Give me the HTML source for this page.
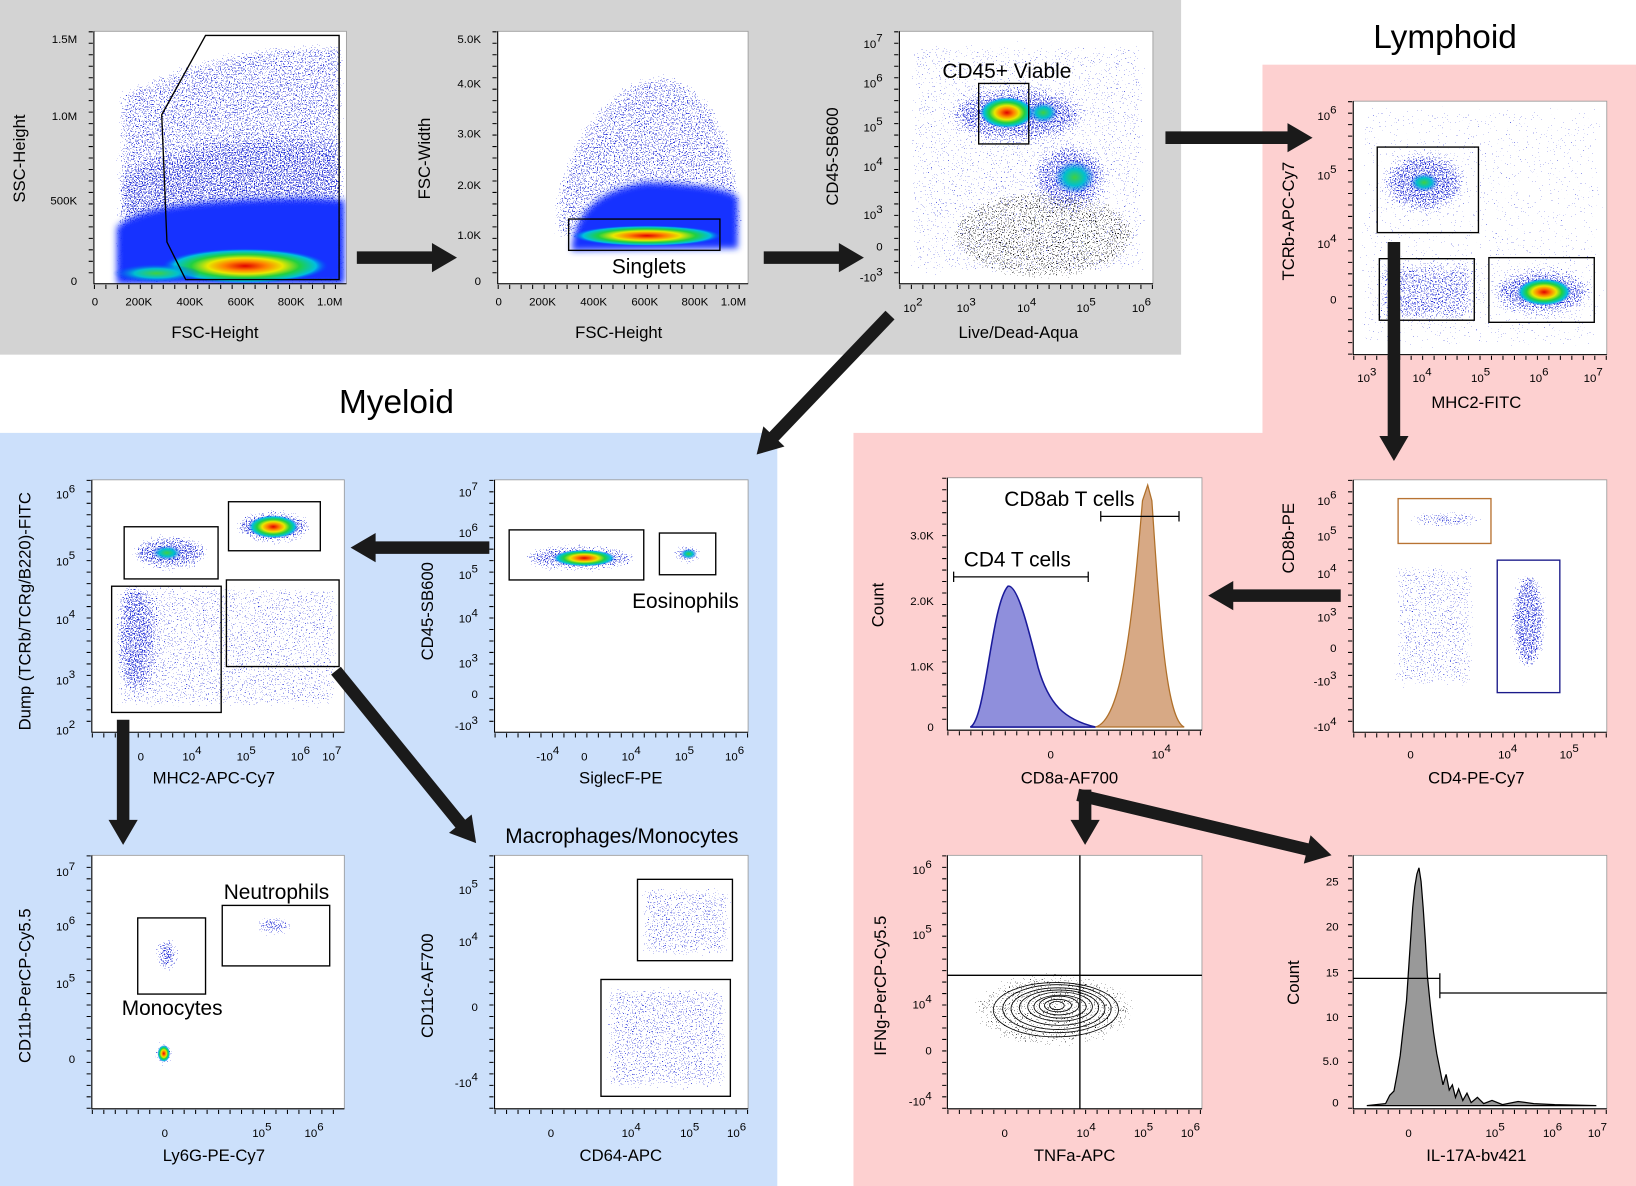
<!DOCTYPE html>
<html><head><meta charset="utf-8"><style>
html,body{margin:0;padding:0;background:#fff}
svg{display:block}
text{font-family:"Liberation Sans",sans-serif;fill:#000}
.t{font-size:11px;text-anchor:end}
.tx{font-size:11px;text-anchor:middle}
.al{font-size:16px;text-anchor:middle}
.an{font-size:20px;text-anchor:middle}
</style></head><body>
<svg width="1636" height="1186" viewBox="0 0 1568 1137" preserveAspectRatio="none" xmlns="http://www.w3.org/2000/svg">
<defs>
<radialGradient id="heat">
<stop offset="0" stop-color="#e00000"/><stop offset="0.25" stop-color="#ff8000"/><stop offset="0.45" stop-color="#e8e800"/><stop offset="0.65" stop-color="#20d040"/><stop offset="0.85" stop-color="#00c0e0"/><stop offset="1" stop-color="#0040ff" stop-opacity="0"/>
</radialGradient>
<radialGradient id="heat2">
<stop offset="0" stop-color="#40d040"/><stop offset="0.5" stop-color="#00c0d0"/><stop offset="1" stop-color="#0040ff" stop-opacity="0"/>
</radialGradient>
<filter id="sp" filterUnits="userSpaceOnUse" x="0" y="0" width="1568" height="1137">
<feGaussianBlur in="SourceAlpha" stdDeviation="5" result="b"/>
<feTurbulence type="fractalNoise" baseFrequency="0.8" numOctaves="2" seed="5" result="n"/>
<feColorMatrix in="n" type="matrix" values="0 0 0 0 0  0 0 0 0 0  0 0 0 0 0  1 0 0 0 0" result="na"/>
<feComposite in="na" in2="b" operator="arithmetic" k1="0" k2="2" k3="1" k4="-2.08" result="c"/>
<feComponentTransfer in="c" result="t"><feFuncA type="linear" slope="30" intercept="0"/></feComponentTransfer>
<feFlood flood-color="#2a35d8"/><feComposite in2="t" operator="in"/>
</filter>
<filter id="spk" filterUnits="userSpaceOnUse" x="0" y="0" width="1568" height="1137">
<feGaussianBlur in="SourceAlpha" stdDeviation="5" result="b"/>
<feTurbulence type="fractalNoise" baseFrequency="0.8" numOctaves="2" seed="9" result="n"/>
<feColorMatrix in="n" type="matrix" values="0 0 0 0 0  0 0 0 0 0  0 0 0 0 0  1 0 0 0 0" result="na"/>
<feComposite in="na" in2="b" operator="arithmetic" k1="0" k2="2" k3="1" k4="-2.08" result="c"/>
<feComponentTransfer in="c" result="t"><feFuncA type="linear" slope="30" intercept="0"/></feComponentTransfer>
<feFlood flood-color="#111"/><feComposite in2="t" operator="in"/>
</filter>
<filter id="bl"><feGaussianBlur stdDeviation="3"/></filter>
<clipPath id="c1"><rect x="90" y="30" width="242" height="242"/></clipPath>
<clipPath id="c2"><rect x="477" y="30" width="240" height="242"/></clipPath>
<clipPath id="c3"><rect x="862" y="30" width="243" height="242"/></clipPath>
<clipPath id="c4"><rect x="1297" y="97" width="243" height="243"/></clipPath>
<clipPath id="c5"><rect x="88" y="460" width="242" height="242"/></clipPath>
<clipPath id="c6"><rect x="474" y="460" width="243" height="242"/></clipPath>
<clipPath id="c8"><rect x="1297" y="460" width="243" height="242"/></clipPath>
<clipPath id="c9"><rect x="88" y="820" width="242" height="243"/></clipPath>
<clipPath id="c10"><rect x="474" y="820" width="243" height="243"/></clipPath>
<clipPath id="c11"><rect x="908" y="820" width="244" height="243"/></clipPath>
</defs>
<rect x="0" y="0" width="1568" height="1137" fill="#fff"/>
<rect x="0" y="0" width="1132" height="340" fill="#d3d3d3"/>
<rect x="0" y="415" width="745" height="722" fill="#cce0fb"/>
<rect x="1210" y="62" width="358" height="360" fill="#fdd0d0"/>
<rect x="818" y="415" width="750" height="722" fill="#fdd0d0"/>
<text x="1385" y="46" style="font-size:32px;text-anchor:middle">Lymphoid</text>
<text x="380" y="396" style="font-size:32px;text-anchor:middle">Myeloid</text>
<g fill="#fff" stroke="#999" stroke-width="0.8">
<rect x="90" y="30" width="242" height="242"/>
<rect x="477" y="30" width="240" height="242"/>
<rect x="862" y="30" width="243" height="242"/>
<rect x="1297" y="97" width="243" height="243"/>
<rect x="88" y="460" width="242" height="242"/>
<rect x="474" y="460" width="243" height="242"/>
<rect x="908" y="458" width="244" height="242"/>
<rect x="1297" y="460" width="243" height="242"/>
<rect x="88" y="820" width="242" height="243"/>
<rect x="474" y="820" width="243" height="243"/>
<rect x="908" y="820" width="244" height="243"/>
<rect x="1297" y="820" width="243" height="243"/>
</g>

<!-- P1 -->
<g clip-path="url(#c1)">
<g filter="url(#sp)"><path d="M112,272 L112,90 Q200,40 330,40 L330,272Z" fill-opacity="0.85"/><path d="M112,272 L112,170 Q220,120 330,140 L330,272Z" fill-opacity="1"/></g>
<path d="M112,272 L112,218 Q130,200 200,194 Q280,188 330,192 L330,272Z" fill="#1530ff" filter="url(#bl)"/>
<ellipse cx="235" cy="255" rx="80" ry="17" fill="url(#heat)"/>
<ellipse cx="150" cy="262" rx="42" ry="9" fill="url(#heat2)"/>
</g>
<!-- P2 -->
<g clip-path="url(#c2)">
<g filter="url(#sp)"><path d="M530,190 Q565,70 640,70 Q705,90 712,200 L712,230 L530,230Z" fill-opacity="0.85"/></g>
<path d="M548,240 Q552,185 620,175 Q700,178 707,190 L707,238 Z" fill="#1530ff" filter="url(#bl)"/>
<ellipse cx="620" cy="226" rx="72" ry="10" fill="url(#heat)"/>
</g>
<!-- P3 -->
<g clip-path="url(#c3)">
<g filter="url(#sp)"><ellipse cx="975" cy="110" rx="60" ry="24" fill-opacity="1"/><ellipse cx="1025" cy="170" rx="32" ry="28" fill-opacity="1"/><rect x="870" y="40" width="230" height="225" fill-opacity="0.62"/></g>
<g filter="url(#spk)"><ellipse cx="1000" cy="225" rx="90" ry="45" fill-opacity="0.8"/></g>
<ellipse cx="965" cy="108" rx="26" ry="15" fill="url(#heat)"/>
<ellipse cx="1000" cy="108" rx="14" ry="10" fill="url(#heat2)"/>
<ellipse cx="1030" cy="170" rx="20" ry="16" fill="url(#heat2)"/>
</g>
<!-- P4 -->
<g clip-path="url(#c4)">
<g filter="url(#sp)"><ellipse cx="1365" cy="175" rx="36" ry="26" fill-opacity="1"/><ellipse cx="1478" cy="280" rx="44" ry="20"/><rect x="1325" y="255" width="85" height="50" fill-opacity="0.75"/><rect x="1300" y="100" width="238" height="236" fill-opacity="0.55"/></g>
<ellipse cx="1365" cy="175" rx="14" ry="9" fill="url(#heat2)"/>
<ellipse cx="1480" cy="280" rx="26" ry="13" fill="url(#heat)"/>
</g>
<!-- P5 -->
<g clip-path="url(#c5)">
<g filter="url(#sp)"><ellipse cx="163" cy="530" rx="38" ry="18"/><ellipse cx="262" cy="505" rx="38" ry="17"/><ellipse cx="130" cy="610" rx="18" ry="50" fill-opacity="1"/><rect x="110" y="560" width="215" height="120" fill-opacity="0.7"/></g>
<ellipse cx="160" cy="530" rx="14" ry="7" fill="url(#heat2)"/>
<ellipse cx="262" cy="505" rx="24" ry="11" fill="url(#heat)"/>
</g>
<!-- P6 -->
<g clip-path="url(#c6)">
<g filter="url(#sp)"><ellipse cx="555" cy="535" rx="56" ry="14"/><ellipse cx="659" cy="531" rx="16" ry="10"/></g>
<ellipse cx="560" cy="535" rx="30" ry="8" fill="url(#heat)"/>
<ellipse cx="660" cy="531" rx="8" ry="5" fill="url(#heat2)"/>
</g>
<!-- P8 -->
<g clip-path="url(#c8)">
<g filter="url(#sp)"><ellipse cx="1385" cy="498" rx="38" ry="8"/><ellipse cx="1465" cy="595" rx="18" ry="48"/><rect x="1335" y="540" width="80" height="120" fill-opacity="0.7"/></g>
</g>
<!-- P9 -->
<g clip-path="url(#c9)">
<g filter="url(#sp)"><ellipse cx="160" cy="915" rx="12" ry="18"/><ellipse cx="262" cy="888" rx="20" ry="10"/><ellipse cx="157" cy="1010" rx="10" ry="14"/></g>
<ellipse cx="157" cy="1010" rx="6" ry="8" fill="url(#heat)"/>
</g>
<!-- P10 -->
<g clip-path="url(#c10)">
<g filter="url(#sp)"><rect x="613" y="850" width="88" height="68" fill-opacity="0.75"/><rect x="580" y="945" width="118" height="100" fill-opacity="0.75"/></g>
</g>
<!-- P11 -->
<g clip-path="url(#c11)">
<g filter="url(#spk)"><ellipse cx="1010" cy="968" rx="80" ry="38" fill-opacity="0.72"/></g>
<g fill="none" stroke="#000" stroke-width="0.8">
<ellipse cx="1012" cy="968" rx="60" ry="26"/><ellipse cx="1013" cy="967" rx="52" ry="23"/><ellipse cx="1014" cy="967" rx="45" ry="20"/><ellipse cx="1015" cy="966" rx="38" ry="17"/><ellipse cx="1016" cy="965" rx="31" ry="14"/><ellipse cx="1016" cy="965" rx="25" ry="11"/><ellipse cx="1015" cy="964" rx="19" ry="9"/><ellipse cx="1014" cy="964" rx="13" ry="6"/><ellipse cx="1013" cy="964" rx="7" ry="4"/>
</g>
</g>

<!-- histogram plot 7 -->
<path d="M930,697 C945,690 950,580 966,562 C975,560 985,600 995,640 C1005,675 1020,690 1050,697 Z" fill="#8f8fdc" stroke="#1a1a9a" stroke-width="1.5"/>
<path d="M1050,697 C1075,690 1085,600 1095,480 L1100,465 L1104,480 C1112,600 1118,690 1135,697 Z" fill="#d7a985" stroke="#b0702a" stroke-width="1.2"/>
<g stroke="#000" stroke-width="1.2"><path d="M914,553 H1043 M914,548 V558 M1043,548 V558 M1055,495 H1130 M1055,490 V500 M1130,490 V500"/></g>
<text x="975" y="543" class="an">CD4 T cells</text>
<text x="1025" y="485" class="an">CD8ab T cells</text>
<!-- histogram plot 12 -->
<path d="M1310,1060 L1328,1058 L1332,1050 L1336,1046 L1339,1030 L1342,1012 L1345,985 L1348,960 L1350,930 L1352,900 L1354,870 L1356,850 L1358,838 L1360,832 L1362,845 L1364,870 L1366,900 L1368,935 L1371,965 L1374,990 L1377,1010 L1380,1025 L1383,1040 L1386,1030 L1389,1045 L1392,1040 L1395,1052 L1398,1044 L1402,1055 L1406,1048 L1410,1057 L1416,1052 L1422,1058 L1430,1055 L1440,1059 L1455,1056 L1470,1058 L1490,1059 L1530,1060 Z" fill="#999" stroke="#000" stroke-width="1.2"/>
<g stroke="#000" stroke-width="1.2"><path d="M1297,938 H1380 M1380,933 V957 M1380,952 H1540"/></g>
<!-- gates -->
<g fill="none" stroke="#000" stroke-width="1.3">
<polygon points="155,110 197,34 325,34 325,268 178,268 160,232"/>
<rect x="545" y="210" width="145" height="30"/>
<rect x="938" y="80" width="48" height="58"/>
<rect x="1320" y="141" width="97" height="82"/>
<rect x="1322" y="248" width="91" height="59"/>
<rect x="1427" y="247" width="101" height="62"/>
<rect x="119" y="505" width="90" height="50"/>
<rect x="219" y="481" width="88" height="47"/>
<rect x="107" y="562" width="105" height="121"/>
<rect x="217" y="556" width="108" height="83"/>
<rect x="488" y="508" width="129" height="48"/>
<rect x="632" y="511" width="54" height="40"/>
<rect x="1340" y="478" width="89" height="43" stroke="#b87333"/>
<rect x="1435" y="537" width="60" height="127" stroke="#1a1a8a"/>
<rect x="132" y="880" width="65" height="73"/>
<rect x="213" y="868" width="103" height="58"/>
<rect x="611" y="843" width="91" height="78"/>
<rect x="576" y="939" width="124" height="112"/>
<path d="M1035,820 V1063 M908,935 H1152"/>
</g>
<text x="965" y="75" class="an">CD45+ Viable</text>
<text x="622" y="262" class="an">Singlets</text>
<text x="657" y="583" class="an">Eosinophils</text>
<text x="265" y="862" class="an">Neutrophils</text>
<text x="165" y="973" class="an">Monocytes</text>
<text x="596" y="808" class="an">Macrophages/Monocytes</text>

<!-- axes -->
<g stroke="#000" fill="none" stroke-width="1">
<path d="M90,30 V272 H332"/><path d="M477,30 V272 H717"/><path d="M862,30 V272 H1105"/><path d="M1297,97 V340 H1540"/>
<path d="M88,460 V702 H330"/><path d="M474,460 V702 H717"/><path d="M908,458 V700 H1152"/><path d="M1297,460 V702 H1540"/>
<path d="M88,820 V1063 H330"/><path d="M474,820 V1063 H717"/><path d="M908,820 V1063 H1152"/><path d="M1297,820 V1063 H1540"/>
</g>
<g stroke="#000" stroke-width="4" stroke-dasharray="1,10" fill="none">
<path d="M90,275 H332 M477,275 H717 M862,275 H1105 M1297,343 H1540 M88,705 H330 M474,705 H717 M908,703 H1152 M1297,705 H1540 M88,1066 H330 M474,1066 H717 M908,1066 H1152 M1297,1066 H1540"/>
<path d="M87,30 V272 M474,30 V272 M859,30 V272 M1294,97 V340 M85,460 V702 M471,460 V702 M905,458 V700 M1294,460 V702 M85,820 V1063 M471,820 V1063 M905,820 V1063 M1294,820 V1063"/>
</g>

<!-- arrows -->
<g fill="#1a1a1a">
<polygon points="342,241 414,241 414,233 438,247 414,261 414,253 342,253"/>
<polygon points="732,241 804,241 804,233 828,247 804,261 804,253 732,253"/>
<polygon points="1117,126 1234,126 1234,118 1258,132 1234,146 1234,138 1117,138"/>
<polygon points="1285,565 1182,565 1182,557 1158,571 1182,585 1182,577 1285,577"/>
<polygon points="469,519 360,519 360,511 336,525 360,539 360,531 469,531"/>
<polygon points="1330,232 1330,418 1322,418 1336,442 1350,418 1342,418 1342,232"/>
<polygon points="112,690 112,786 104,786 118,810 132,786 124,786 124,690"/>
<polygon points="1034,757 1034,786 1026,786 1040,810 1054,786 1046,786 1046,757"/>
<g transform="translate(853,302) rotate(133.7)"><polygon points="0,-6 161,-6 161,-14 185,0 161,14 161,6 0,6"/></g>
<g transform="translate(322,643) rotate(50.9)"><polygon points="0,-6 189,-6 189,-14 213,0 189,14 189,6 0,6"/></g>
<g transform="translate(1033,762) rotate(13.4)"><polygon points="0,-6 226,-6 226,-14 250,0 226,14 226,6 0,6"/></g>
</g>

<!-- tick labels -->
<g>
<text class="t" x="74" y="41">1.5M</text><text class="t" x="74" y="115">1.0M</text><text class="t" x="74" y="196">500K</text><text class="t" x="74" y="273">0</text>
<text class="tx" x="91" y="293">0</text><text class="tx" x="133" y="293">200K</text><text class="tx" x="182" y="293">400K</text><text class="tx" x="231" y="293">600K</text><text class="tx" x="279" y="293">800K</text><text class="tx" x="316" y="293">1.0M</text>
<text class="al" x="206" y="324">FSC-Height</text><text class="al" transform="translate(24,152) rotate(-90)">SSC-Height</text>

<text class="t" x="461" y="41">5.0K</text><text class="t" x="461" y="84">4.0K</text><text class="t" x="461" y="132">3.0K</text><text class="t" x="461" y="181">2.0K</text><text class="t" x="461" y="229">1.0K</text><text class="t" x="461" y="273">0</text>
<text class="tx" x="478" y="293">0</text><text class="tx" x="520" y="293">200K</text><text class="tx" x="569" y="293">400K</text><text class="tx" x="618" y="293">600K</text><text class="tx" x="666" y="293">800K</text><text class="tx" x="703" y="293">1.0M</text>
<text class="al" x="593" y="324">FSC-Height</text><text class="al" transform="translate(412,152) rotate(-90)">FSC-Width</text>

<text class="t" x="846" y="46">10<tspan dy="-6">7</tspan></text><text class="t" x="846" y="84">10<tspan dy="-6">6</tspan></text><text class="t" x="846" y="126">10<tspan dy="-6">5</tspan></text><text class="t" x="846" y="164">10<tspan dy="-6">4</tspan></text><text class="t" x="846" y="210">10<tspan dy="-6">3</tspan></text><text class="t" x="846" y="240">0</text><text class="t" x="846" y="270">-10<tspan dy="-6">3</tspan></text>
<text class="tx" x="875" y="299">10<tspan dy="-6">2</tspan></text><text class="tx" x="926" y="299">10<tspan dy="-6">3</tspan></text><text class="tx" x="984" y="299">10<tspan dy="-6">4</tspan></text><text class="tx" x="1041" y="299">10<tspan dy="-6">5</tspan></text><text class="tx" x="1094" y="299">10<tspan dy="-6">6</tspan></text>
<text class="al" x="976" y="324">Live/Dead-Aqua</text><text class="al" transform="translate(803,150) rotate(-90)">CD45-SB600</text>

<text class="t" x="1281" y="115">10<tspan dy="-6">6</tspan></text><text class="t" x="1281" y="172">10<tspan dy="-6">5</tspan></text><text class="t" x="1281" y="238">10<tspan dy="-6">4</tspan></text><text class="t" x="1281" y="291">0</text>
<text class="tx" x="1310" y="366">10<tspan dy="-6">3</tspan></text><text class="tx" x="1363" y="366">10<tspan dy="-6">4</tspan></text><text class="tx" x="1419" y="366">10<tspan dy="-6">5</tspan></text><text class="tx" x="1475" y="366">10<tspan dy="-6">6</tspan></text><text class="tx" x="1527" y="366">10<tspan dy="-6">7</tspan></text>
<text class="al" x="1415" y="391">MHC2-FITC</text><text class="al" transform="translate(1240,212) rotate(-90)">TCRb-APC-Cy7</text>

<text class="t" x="72" y="478">10<tspan dy="-6">6</tspan></text><text class="t" x="72" y="542">10<tspan dy="-6">5</tspan></text><text class="t" x="72" y="598">10<tspan dy="-6">4</tspan></text><text class="t" x="72" y="656">10<tspan dy="-6">3</tspan></text><text class="t" x="72" y="704">10<tspan dy="-6">2</tspan></text>
<text class="tx" x="135" y="729">0</text><text class="tx" x="184" y="729">10<tspan dy="-6">4</tspan></text><text class="tx" x="236" y="729">10<tspan dy="-6">5</tspan></text><text class="tx" x="288" y="729">10<tspan dy="-6">6</tspan></text><text class="tx" x="318" y="729">10<tspan dy="-6">7</tspan></text>
<text class="al" x="205" y="751">MHC2-APC-Cy7</text><text class="al" transform="translate(29,586) rotate(-90)">Dump (TCRb/TCRg/B220)-FITC</text>

<text class="t" x="458" y="476">10<tspan dy="-6">7</tspan></text><text class="t" x="458" y="515">10<tspan dy="-6">6</tspan></text><text class="t" x="458" y="555">10<tspan dy="-6">5</tspan></text><text class="t" x="458" y="597">10<tspan dy="-6">4</tspan></text><text class="t" x="458" y="640">10<tspan dy="-6">3</tspan></text><text class="t" x="458" y="669">0</text><text class="t" x="458" y="700">-10<tspan dy="-6">3</tspan></text>
<text class="tx" x="525" y="729">-10<tspan dy="-6">4</tspan></text><text class="tx" x="560" y="729">0</text><text class="tx" x="605" y="729">10<tspan dy="-6">4</tspan></text><text class="tx" x="656" y="729">10<tspan dy="-6">5</tspan></text><text class="tx" x="704" y="729">10<tspan dy="-6">6</tspan></text>
<text class="al" x="595" y="751">SiglecF-PE</text><text class="al" transform="translate(415,586) rotate(-90)">CD45-SB600</text>

<text class="t" x="895" y="517">3.0K</text><text class="t" x="895" y="580">2.0K</text><text class="t" x="895" y="643">1.0K</text><text class="t" x="895" y="701">0</text>
<text class="tx" x="1007" y="727">0</text><text class="tx" x="1113" y="727">10<tspan dy="-6">4</tspan></text>
<text class="al" x="1025" y="751">CD8a-AF700</text><text class="al" transform="translate(847,580) rotate(-90)">Count</text>

<text class="t" x="1281" y="484">10<tspan dy="-6">6</tspan></text><text class="t" x="1281" y="518">10<tspan dy="-6">5</tspan></text><text class="t" x="1281" y="554">10<tspan dy="-6">4</tspan></text><text class="t" x="1281" y="596">10<tspan dy="-6">3</tspan></text><text class="t" x="1281" y="625">0</text><text class="t" x="1281" y="657">-10<tspan dy="-6">3</tspan></text><text class="t" x="1281" y="701">-10<tspan dy="-6">4</tspan></text>
<text class="tx" x="1352" y="727">0</text><text class="tx" x="1445" y="727">10<tspan dy="-6">4</tspan></text><text class="tx" x="1504" y="727">10<tspan dy="-6">5</tspan></text>
<text class="al" x="1415" y="751">CD4-PE-Cy7</text><text class="al" transform="translate(1240,516) rotate(-90)">CD8b-PE</text>

<text class="t" x="72" y="840">10<tspan dy="-6">7</tspan></text><text class="t" x="72" y="892">10<tspan dy="-6">6</tspan></text><text class="t" x="72" y="947">10<tspan dy="-6">5</tspan></text><text class="t" x="72" y="1019">0</text>
<text class="tx" x="158" y="1090">0</text><text class="tx" x="251" y="1090">10<tspan dy="-6">5</tspan></text><text class="tx" x="301" y="1090">10<tspan dy="-6">6</tspan></text>
<text class="al" x="205" y="1113">Ly6G-PE-Cy7</text><text class="al" transform="translate(29,945) rotate(-90)">CD11b-PerCP-Cy5.5</text>

<text class="t" x="458" y="857">10<tspan dy="-6">5</tspan></text><text class="t" x="458" y="907">10<tspan dy="-6">4</tspan></text><text class="t" x="458" y="969">0</text><text class="t" x="458" y="1042">-10<tspan dy="-6">4</tspan></text>
<text class="tx" x="528" y="1090">0</text><text class="tx" x="605" y="1090">10<tspan dy="-6">4</tspan></text><text class="tx" x="661" y="1090">10<tspan dy="-6">5</tspan></text><text class="tx" x="706" y="1090">10<tspan dy="-6">6</tspan></text>
<text class="al" x="595" y="1113">CD64-APC</text><text class="al" transform="translate(415,945) rotate(-90)">CD11c-AF700</text>

<text class="t" x="893" y="838">10<tspan dy="-6">6</tspan></text><text class="t" x="893" y="900">10<tspan dy="-6">5</tspan></text><text class="t" x="893" y="967">10<tspan dy="-6">4</tspan></text><text class="t" x="893" y="1011">0</text><text class="t" x="893" y="1060">-10<tspan dy="-6">4</tspan></text>
<text class="tx" x="963" y="1090">0</text><text class="tx" x="1041" y="1090">10<tspan dy="-6">4</tspan></text><text class="tx" x="1096" y="1090">10<tspan dy="-6">5</tspan></text><text class="tx" x="1141" y="1090">10<tspan dy="-6">6</tspan></text>
<text class="al" x="1030" y="1113">TNFa-APC</text><text class="al" transform="translate(849,945) rotate(-90)">IFNg-PerCP-Cy5.5</text>

<text class="t" x="1283" y="849">25</text><text class="t" x="1283" y="892">20</text><text class="t" x="1283" y="936">15</text><text class="t" x="1283" y="979">10</text><text class="t" x="1283" y="1021">5.0</text><text class="t" x="1283" y="1061">0</text>
<text class="tx" x="1350" y="1090">0</text><text class="tx" x="1433" y="1090">10<tspan dy="-6">5</tspan></text><text class="tx" x="1488" y="1090">10<tspan dy="-6">6</tspan></text><text class="tx" x="1531" y="1090">10<tspan dy="-6">7</tspan></text>
<text class="al" x="1415" y="1113">IL-17A-bv421</text><text class="al" transform="translate(1245,942) rotate(-90)">Count</text>
</g>
</svg>
</body></html>
